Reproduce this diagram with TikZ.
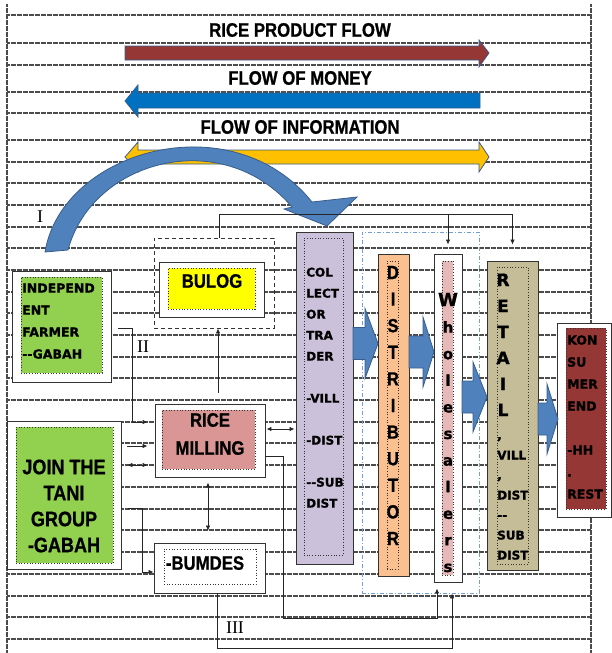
\documentclass[tikz,border=0pt]{standalone}
\usepackage{fontspec}
\usetikzlibrary{arrows.meta}
\newfontfamily\condfont{Liberation Sans}[UprightFont={* Bold},FakeStretch=0.86,FakeBold=0.8]
\newfontfamily\widefont{DejaVu Sans}[UprightFont={* Bold},FakeBold=1.2]
\newfontfamily\romanfont{Liberation Serif}
\definecolor{ricered}{HTML}{953735}
\definecolor{moneyblue}{HTML}{0070C0}
\definecolor{infoyellow}{HTML}{FFC000}
\definecolor{arrowblue}{HTML}{4F81BD}
\definecolor{arrowedge}{HTML}{385D8A}
\definecolor{farmgreen}{HTML}{92D050}
\definecolor{bulogyellow}{HTML}{FFFF00}
\definecolor{millpink}{HTML}{D99694}
\definecolor{colllilac}{HTML}{CCC1DA}
\definecolor{distorange}{HTML}{FAC090}
\definecolor{wholepink}{HTML}{E6B9B8}
\definecolor{retailtan}{HTML}{C4BD97}
\definecolor{dashblue}{HTML}{6FA0D8}
\tikzset{
  bgline/.style={black!70,line width=1.2pt,dash pattern=on 0.7pt off 0.5pt},
  box/.style={draw=black!80,line width=0.9pt,fill=white,inner sep=0pt},
  inbox/.style={draw=black!80,dotted,line width=0.7pt,inner sep=0pt},
  conn/.style={black!85,line width=0.8pt},
  arr/.style={-{Latex[length=5pt,width=4.5pt]}},
  arrboth/.style={{Latex[length=5pt,width=4.5pt]}-{Latex[length=5pt,width=4.5pt]}},
  flowarrow/.style={draw=arrowedge,line width=0.8pt},
  flowtitle/.style={font=\condfont\fontsize{19.5}{22}\selectfont,inner sep=0pt},
  bigtxt/.style={font=\condfont\fontsize{19.5}{28}\selectfont,align=center,inner sep=0pt},
  smalltxt/.style={font=\widefont\fontsize{12.5}{22}\selectfont,align=left,inner sep=0pt,anchor=base west},
  roman/.style={font=\romanfont\fontsize{18}{18}\selectfont,inner sep=0pt}
}
\begin{document}
\begin{tikzpicture}[x=1pt,y=-1pt]
\useasboundingbox (0,0) rectangle (612,653);
% ruled background
\foreach \y in {15,43,65,92,113,140,162,183,205,227,248,270,292,313,335,357,378,400,422,443,465,487,509,530,552,574,596,617,639}
  \draw[bgline] (7,\y) -- (591,\y);
\draw[bgline] (7,4) -- (7,653);
\draw[bgline] (591,4) -- (591,653);

% the three flows
\node[flowtitle] (riceflow) at (300,30) {RICE PRODUCT FLOW};
\path[flowarrow,fill=ricered] (125,46) -- (479,46) -- (479,40) -- (489,53) -- (479,67) -- (479,60) -- (125,60) -- cycle;
\node[flowtitle] (moneyflow) at (300,78) {FLOW OF MONEY};
\path[flowarrow,fill=moneyblue] (480,93) -- (138,93) -- (138,85) -- (125,101) -- (138,117) -- (138,108) -- (480,108) -- cycle;
\node[flowtitle] (infoflow) at (300,127) {FLOW OF INFORMATION};
\path[flowarrow,fill=infoyellow] (138,150) -- (479,150) -- (479,142) -- (489,157) -- (479,172) -- (479,164) -- (138,164) -- (138,172) -- (125,157) -- (138,142) -- cycle;

% big curved arrow
\path[flowarrow,fill=arrowblue] (45,252) .. controls (62,150) and (232,102) .. (312,202) -- (357,197) -- (327,226) -- (284,209) -- (292,207) .. controls (222,125) and (92,160) .. (68,250) -- cycle;
\node[roman] (lab1) at (40,217) {I};
\node[roman] (lab2) at (143,347) {II};
\node[roman] (lab3) at (235,628) {III};

% farmers
\node[box,minimum width=99,minimum height=111] (indep) at (61.5,326.5) {};
\node[inbox,fill=farmgreen,minimum width=81,minimum height=96] (indepin) at (61.5,325) {};
\node[smalltxt] (indeptxt) at (22,358.6) {INDEPEND\\ENT\\FARMER\\-{}-GABAH};
\node[box,minimum width=114,minimum height=148] (tani) at (64,495) {};
\node[inbox,fill=farmgreen,minimum width=97,minimum height=136] (taniin) at (64.5,495) {};
\node[bigtxt,font=\condfont\fontsize{21}{26}\selectfont] (tanitxt) at (64,506) {JOIN THE\\TANI\\GROUP\\-GABAH};

% bulog, milling, bumdes
\node[draw=black!80,line width=0.9pt,dash pattern=on 4pt off 3pt,minimum width=120,minimum height=90] (bulogdash) at (214,283) {};
\node[box,minimum width=105,minimum height=55] (bulog) at (211.5,289.5) {};
\node[inbox,fill=bulogyellow,minimum width=87,minimum height=41] (bulogin) at (211.5,288.5) {};
\node[bigtxt] (bulogtxt) at (212,281) {BULOG};
\node[box,minimum width=110,minimum height=73] (mill) at (210,440.5) {};
\node[inbox,fill=millpink,minimum width=93,minimum height=59] (millin) at (208.5,439.5) {};
\node[bigtxt] (milltxt) at (210,434) {RICE\\MILLING};
\node[box,minimum width=111,minimum height=50] (bumdes) at (209.5,568) {};
\node[inbox,minimum width=92,minimum height=35] (bumdesin) at (210,566.5) {};
\node[bigtxt] (bumdestxt) at (205,563) {-BUMDES};

% collector
\node[box,fill=colllilac,minimum width=57,minimum height=332] (coll) at (324.5,398) {};
\node[inbox,minimum width=39,minimum height=317] (collin) at (323.5,396.5) {};
\node[smalltxt,font=\widefont\fontsize{12}{21}\selectfont] (colltxt) at (306,507.6) {COL\\LECT\\OR\\TRA\\DER\\[21pt]-VILL\\[21pt]-DIST\\[21pt]-{}-SUB\\DIST};

% distributor and wholesalers
\node[draw=dashblue,line width=0.8pt,dash pattern=on 4pt off 2pt on 1pt off 2pt,minimum width=117,minimum height=361] (distdash) at (420.5,412.5) {};
\node[box,fill=distorange,minimum width=31,minimum height=322] (dist) at (393.5,415) {};
\node[inbox,minimum width=11,minimum height=308] (distin) at (392.5,415) {};
\node[font=\condfont\fontsize{19}{26.6}\selectfont,align=center,anchor=base,inner sep=0pt] (disttxt) at (393,545) {D\\I\\S\\T\\R\\I\\B\\U\\T\\O\\R};
\node[box,minimum width=28,minimum height=328] (whole) at (448,418) {};
\node[inbox,fill=wholepink,minimum width=11,minimum height=314] (wholein) at (447.5,418) {};
\node[font=\widefont\fontsize{15}{26.6}\selectfont,align=center,anchor=base,inner sep=0pt] (wholetxt) at (448,572) {{\fontsize{18}{26.6}\selectfont W}\\h\\o\\l\\e\\s\\a\\l\\e\\r\\s};

% retail
\node[box,fill=retailtan,minimum width=51,minimum height=309] (retail) at (512.5,415.5) {};
\node[inbox,minimum width=31,minimum height=297] (retailin) at (512.5,415.5) {};
\node[font=\widefont\fontsize{17}{26}\selectfont,align=center,anchor=base,inner sep=0pt] (rettxt) at (503,416) {R\\E\\T\\A\\I\\L};
\node[smalltxt,font=\widefont\fontsize{12}{20}\selectfont] (retsub) at (497,559.5) {,\\VILL\\,\\DIST\\-{}-\\SUB\\DIST};

% konsumer
\node[box,minimum width=54,minimum height=194] (kons) at (584,420) {};
\node[inbox,fill=ricered,minimum width=40,minimum height=181] (konsin) at (586,418.5) {};
\node[smalltxt] (konstxt) at (567,498.6) {KON\\SU\\MER\\END\\[22pt]-HH\\.\\REST};

% product flow between the columns
\foreach \xs/\xh/\xt/\yc in {353/365/378/343.5, 409/423/434/352, 462/473/487/397, 538/547/558/419}
  \path[flowarrow,fill=arrowblue] (\xs,\yc-16) -- (\xh,\yc-16) -- (\xh,\yc-35) -- (\xt,\yc) -- (\xh,\yc+35) -- (\xh,\yc+16) -- (\xs,\yc+16) -- cycle;

% connectors
\coordinate (bus) at (219,214);
\draw[conn] (bus |- bulogdash.north) -- (bus) -- (bus -| retail.north);
\draw[conn,arr,shorten >=9pt] (bus -| whole.north) -- (whole.north);
\draw[conn,arr,shorten >=16pt] (bus -| retail.north) -- (retail.north);
\draw[conn,arr] ([xshift=8pt,yshift=11pt]mill.north) -- ([xshift=4pt]bulogdash.south);
\coordinate (k1) at (132,422);
\draw[conn,arr,shorten <=7pt,shorten >=7pt] ([yshift=-1.5pt]indep.east) -| (k1) -- (k1 -| mill.west);
\draw[conn,arr,shorten <=6pt,shorten >=7pt] (tani.east |- 0,446) -- (mill.west |- 0,446);
\draw[conn,arrboth,shorten <=6pt,shorten >=7pt] (tani.east |- 0,465) -- (mill.west |- 0,465);
\draw[conn,arrboth,shorten <=1pt,shorten >=1pt] (mill.east |- 0,429) -- (coll.west |- 0,429);
\draw[conn,arrboth,shorten <=5pt,shorten >=12pt] ([xshift=-2pt]mill.south) -- ([xshift=-1.5pt]bumdes.north);
\coordinate (k2) at (283,618);
\draw[conn,arr,shorten >=6pt] (mill.east |- 0,456) -| (k2) -| ([xshift=-11pt]whole.south);
\coordinate (k3) at (142,572);
\draw[conn,arr,shorten <=7pt] (tani.east |- 0,508) -| (k3) -- (k3 -| bumdes.west);
\coordinate (k4) at (452,648);
\draw[conn,arr] ([xshift=7.5pt]bumdes.south) |- (k4) -- (k4 |- distdash.south);
\end{tikzpicture}
\end{document}
